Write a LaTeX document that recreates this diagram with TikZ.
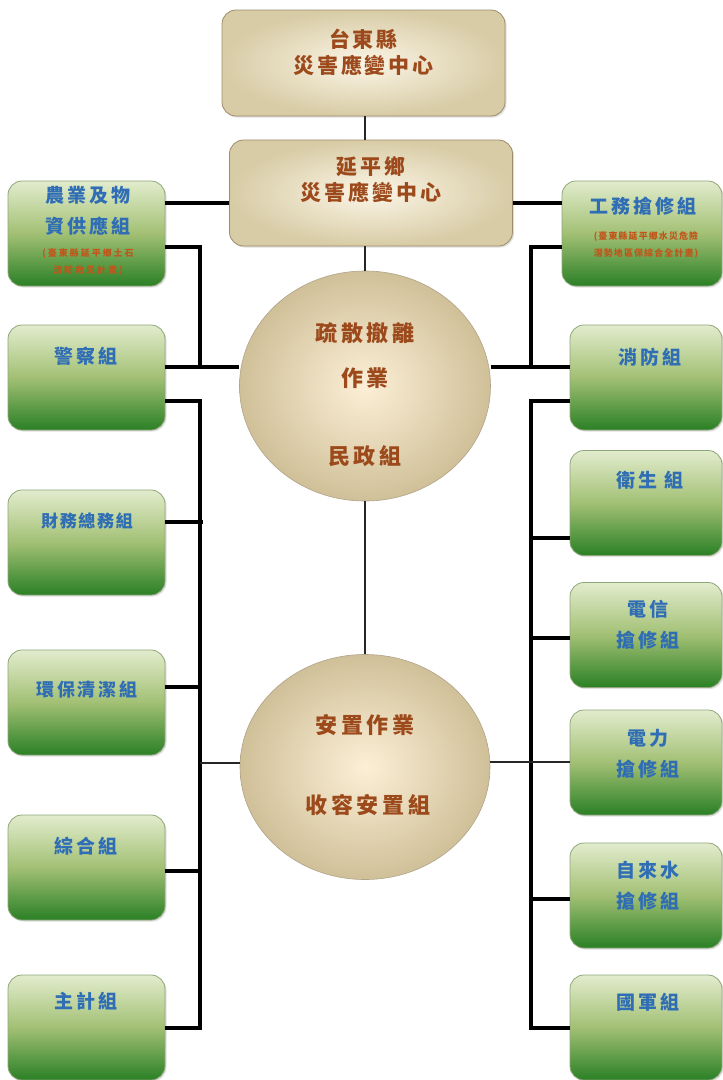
\documentclass[tikz,border=0pt]{standalone}
\usepackage{fontspec}
\newfontfamily\cjk{Noto Sans CJK TC}
\usetikzlibrary{shadows,calc,shapes.geometric}
\definecolor{gtop}{HTML}{E2ECCD}
\definecolor{gmid}{HTML}{A2C074}
\definecolor{gbot}{HTML}{2A8025}
\definecolor{gborder}{HTML}{8FA67A}
\definecolor{bin}{HTML}{FBF5E6}
\definecolor{bout}{HTML}{D8CCA6}
\definecolor{bborder}{HTML}{9C8C6A}
\definecolor{cin}{HTML}{FCEFD6}
\definecolor{cout}{HTML}{D0C099}
\definecolor{brn}{HTML}{9C4A1C}
\definecolor{blu}{HTML}{2F6DB5}
\definecolor{org}{HTML}{C2541A}
\tikzset{
  x=1pt, y=-1pt,
  gbox/.style={draw=gborder, line width=0.8pt, rounded corners=14pt, top color=gtop, bottom color=gbot, middle color=gmid,
    minimum width=157pt, minimum height=105pt, inner sep=0pt,
    drop shadow={opacity=0.25, shadow xshift=1.5pt, shadow yshift=-1.5pt}},
  bbox/.style={draw=bborder, line width=0.8pt, rounded corners=14pt, shading=radial, inner color=bin, outer color=bout,
    minimum width=283pt, minimum height=106pt, inner sep=0pt,
    drop shadow={opacity=0.25, shadow xshift=1.5pt, shadow yshift=-1.5pt}},
  cell/.style={draw=bborder!80, line width=0.6pt, ellipse, shading=radial, inner color=cin, outer color=cout, inner sep=0pt},
  btxt/.style={font=\cjk\bfseries\fontsize{21pt}{26pt}\selectfont\addfontfeature{LetterSpace=14}, text=brn, align=center, inner sep=0pt},
  ctxt/.style={font=\cjk\bfseries\fontsize{22pt}{26pt}\selectfont\addfontfeature{LetterSpace=18}, text=brn, align=center, inner sep=0pt},
  gtxt/.style={font=\cjk\bfseries\fontsize{19pt}{31pt}\selectfont\addfontfeature{LetterSpace=16}, text=blu, align=center, inner sep=0pt},
  stxt/.style={font=\cjk\bfseries\fontsize{9pt}{17pt}\selectfont\addfontfeature{LetterSpace=22}, text=org, align=center, inner sep=0pt},
  thk/.style={line width=4pt, draw=black},
  thn/.style={line width=2pt, draw=black!85},
}
\begin{document}
\begin{tikzpicture}
\useasboundingbox (0,0) rectangle (723,1080);
\fill[white] (0,0) rectangle (723,1080);
\coordinate (jl1) at (200,247);
\coordinate (jl2) at (200,367);
\coordinate (jr1) at (531,247);
\coordinate (jr2) at (531,367);

% center boxes
\node[bbox] (cty) at (363.5,63) {};
\node[bbox] (twp) at (371,193) {};
\node[btxt] (ctyt) at (363.5,52) {台東縣\\災害應變中心};
\node[btxt] (twpt) at (371,180) {延平鄉\\災害應變中心};

% circles
\node[cell, minimum width=251pt, minimum height=230pt] (c1) at (365,386) {};
\node[cell, minimum width=250pt, minimum height=225pt] (c2) at (365,767) {};

% left boxes
\node[gbox] (agri) at (86.5,233.5) {};
\node[gbox] (police) at (86.5,377.5) {};
\node[gbox] (fin) at (86.5,542.5) {};
\node[gbox] (env) at (86.5,702.5) {};
\node[gbox] (gen) at (86.5,867.5) {};
\node[gbox] (acc) at (86.5,1027.5) {};
% right boxes
\node[gbox, minimum width=160pt] (works) at (642,233.5) {};
\node[gbox, minimum width=152pt] (fire) at (646,377.5) {};
\node[gbox, minimum width=152pt] (health) at (646,503) {};
\node[gbox, minimum width=152pt] (tele) at (646,635) {};
\node[gbox, minimum width=152pt] (power) at (646,762.5) {};
\node[gbox, minimum width=152pt] (water) at (646,895.5) {};
\node[gbox, minimum width=152pt] (army) at (646,1027.5) {};

% connectors
\draw[thn] (cty.south -| c1.north) -- (twp.north -| c1.north);
\draw[thn] (twp.south -| c1.north) -- (c1.north);
\draw[thn] (c1.south) -- (c2.north);
\draw[thk] (agri.east |- 0,203) -- (twp.west |- 0,203);
\draw[thk] (twp.east |- 0,203) -- (works.west |- 0,203);
\draw[thk] (agri.east |- jl1) -- (jl1) -- (jl2);
\draw[thk] (works.west |- jr1) -- (jr1) -- (jr2);
\draw[thk] (police.east |- jl2) -- (c1.west |- jl2);
\draw[thk] (c1.east |- jr2) -- (fire.west |- jr2);
\draw[thk] (police.east |- 0,401) -| (200,1028) -- (acc.east |- 0,1028);
\draw[thk] (fire.west |- 0,401) -| (531,1028) -- (army.west |- 0,1028);
\draw[thk] (fin.east |- 0,522) -- (203,522);
\draw[thk] (env.east |- 0,687) -- (200,687);
\draw[thk] (gen.east |- 0,871) -- (200,871);
\draw[thk] (531,538) -- (health.west |- 0,538);
\draw[thk] (531,638) -- (tele.west |- 0,638);
\draw[thk] (531,899) -- (water.west |- 0,899);
\draw[thn] (200,763) -- (c2.west |- 0,763);
\draw[thn] (c2.east |- 0,762) -- (power.west |- 0,762);

% circle texts
\node[ctxt] (c1a) at (365,333) {疏散撤離};
\node[ctxt] (c1b) at (365,378) {作業};
\node[ctxt] (c1c) at (365,456) {民政組};
\node[ctxt] (c2a) at (365,725) {安置作業};
\node[ctxt] (c2b) at (368,805) {收容安置組};

% left texts
\node[gtxt] (agrit) at (88,211) {農業及物\\資供應組};
\node[stxt] (agris) at (88,262) {(臺東縣延平鄉土石\\流防救災計畫)};
\node[gtxt] (policet) at (86,356) {警察組};
\node[gtxt, font=\cjk\bfseries\fontsize{17pt}{24pt}\selectfont\addfontfeature{LetterSpace=10}] (fint) at (87,521) {財務總務組};
\node[gtxt, font=\cjk\bfseries\fontsize{18pt}{24pt}\selectfont\addfontfeature{LetterSpace=16}] (envt) at (87,690) {環保清潔組};
\node[gtxt] (gent) at (86,846) {綜合組};
\node[gtxt] (acct) at (86,1001) {主計組};
% right texts
\node[gtxt, font=\cjk\bfseries\fontsize{19pt}{24pt}\selectfont\addfontfeature{LetterSpace=16}] (workst) at (643,206) {工務搶修組};
\node[stxt, font=\cjk\bfseries\fontsize{9pt}{17pt}\selectfont\addfontfeature{LetterSpace=12}] (workss) at (646,245) {(臺東縣延平鄉水災危險\\潛勢地區保綜合全計畫)};
\node[gtxt] (firet) at (650,357) {消防組};
\node[gtxt] (healtht) at (650,480) {衛生 組};
\node[gtxt] (telet) at (648,625) {電信\\搶修組};
\node[gtxt] (powert) at (648,754) {電力\\搶修組};
\node[gtxt] (watert) at (648,886) {自來水\\搶修組};
\node[gtxt] (armyt) at (648,1002) {國軍組};
\end{tikzpicture}
\end{document}
